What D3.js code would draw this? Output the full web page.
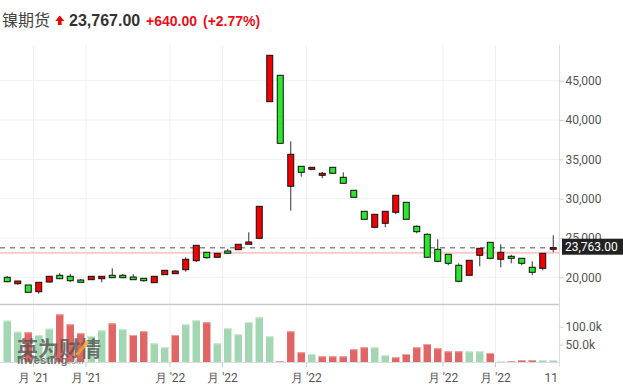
<!DOCTYPE html>
<html><head><meta charset="utf-8">
<script src="https://cdn.jsdelivr.net/npm/d3@7"></script>
<style>body{margin:0;background:#fff;} svg{display:block;}</style>
</head><body><svg id="c" width="623" height="391"></svg>
<script>
// ---- data ----
const opens  = [20000,19186,19021,18169,19402,20254,20127,19657,19695,19822,20254,20254,20038,19873,19313,20331,20458,20966,22111,23179,22543,23344,23510,24196,24959,42330,45686,31572,34115,33733,32970,33988,32716,31063,28393,26358,26867,28265,29537,26485,25468,23560,22925,21526,20254,22798,24451,22289,22670,22416,21272,21144,23560];
const highs  = [20165,19529,19021,19364,20127,20547,20420,19784,20127,20127,21144,20420,20382,19873,20127,20890,20890,22543,24069,23179,23052,23637,24196,25722,29028,48230,45686,37294,34115,33988,33390,33988,33352,31063,28393,28011,28393,30427,29537,26612,25595,24832,22925,21780,22162,23688,24451,24196,22874,22416,22035,23052,25341];
const lows   = [19364,19059,18093,17915,19313,19822,19402,19364,19695,19364,19949,19949,19695,19440,19313,20331,20458,20712,21946,22365,22543,23052,23510,24196,24959,42330,37039,28469,32792,33606,32589,33225,31953,30173,27375,26231,26358,28011,27375,25595,22543,21907,21526,19364,20254,21399,22289,21272,21780,21526,20254,20890,23179];
const closes = [19440,19529,18093,19364,20127,19822,19568,19364,20127,20127,19949,19949,19695,19568,20127,20890,20801,22289,24069,22492,23052,23052,24196,24489,29028,48230,37039,35641,33352,33988,33225,33225,31953,30173,27375,28011,28393,30427,27375,25799,22543,22035,21780,19491,22162,23688,22416,23179,22416,21780,20636,23052,23763];
const volumes = [116.8,86.0,84.4,76.8,94.4,134.6,106.7,81.6,74.0,89.9,109.5,92.7,76.8,87.2,53.6,42.5,76.8,106.7,117.9,112.3,53.6,95.5,78.8,112.3,126.3,73.2,4.2,87.2,28.5,23.7,17.3,17.3,17.3,36.9,42.5,42.5,20.1,14.5,23.7,42.5,51.7,39.7,31.3,31.3,31.3,31.3,26.5,4.2,4.2,7.0,7.0,7.0,7.0].map(v=>v*1000);
const volumeUp = [0,0,1,0,0,1,1,1,0,0,1,0,1,1,0,0,1,0,0,1,0,0,0,0,0,0,1,1,1,0,1,1,1,1,1,0,0,1,1,1,1,1,1,1,0,0,1,0,1,1,1,0,0];
const priceTicks = [20000,25000,30000,35000,40000,45000];
const volumeTicks = [50000,100000];
const xTickAfter = [2,7,15,20,28,41,46];
const xTickLabels = ["月 '21","月 '21","月 '22","月 '22","月 '22","月 '22","月 '22"];
const lastXLabel = "11";
const lastPrice = 23763, prevClose = 23127;
const titleText = "镍期货", priceText = "23,767.00", changeText = "+640.00", pctText = "(+2.77%)";

// ---- layout ----
const svg = d3.select("#c");
const N = opens.length;
const plotL = 2, plotR = 558.5, axisX = 559.5;
const topY = 45, sepY = 304.5, volBottom = 362.5;

const x = d3.scaleBand().domain(d3.range(N)).range([plotL, plotR]).paddingInner(0.43).paddingOuter(0.215);
const xv = d3.scaleBand().domain(d3.range(N)).range([plotL, plotR]).paddingInner(0.29).paddingOuter(0.145);
const y = d3.scaleLinear().domain([20000,45000]).range([277.3,80.7]);
const yv = d3.scaleLinear().domain([0,100000]).range([volBottom,326.7]);

const gridX = i => x(i) + x.bandwidth()/2 + x.step()/2;

// header
const hdr = svg.append("g");
hdr.append("text").attr("x",2).attr("y",26).attr("font-family","'Noto Sans CJK SC'").attr("font-size",16).attr("fill","#444").text(titleText);
hdr.append("path").attr("d","M59.8,15.5 L64.3,21 L61.6,21 L61.6,25 L58,25 L58,21 L55.3,21 Z").attr("fill","#e60000");
hdr.append("text").attr("x",69).attr("y",26).attr("font-family","'Liberation Sans',Arial").attr("font-weight","bold").attr("font-size",16).attr("fill","#333").text(priceText);
hdr.append("text").attr("x",146).attr("y",26).attr("font-family","'Liberation Sans',Arial").attr("font-weight","bold").attr("font-size",14).attr("fill","#e8101a").text(changeText);
hdr.append("text").attr("x",203).attr("y",26).attr("font-family","'Liberation Sans',Arial").attr("font-weight","bold").attr("font-size",14).attr("fill","#e8101a").text(pctText);

// grid
const grid = svg.append("g");
grid.selectAll("line.h").data(priceTicks).join("line")
  .attr("x1",0).attr("x2",axisX).attr("y1",d=>y(d)).attr("y2",d=>y(d))
  .attr("stroke","#f0f0f0").attr("stroke-width",1);
grid.selectAll("line.v").data(xTickAfter).join("line")
  .attr("x1",d=>gridX(d)).attr("x2",d=>gridX(d)).attr("y1",topY).attr("y2",volBottom)
  .attr("stroke","#f0f0f0").attr("stroke-width",1);

// reference lines
svg.append("line").attr("x1",0).attr("x2",axisX).attr("y1",y(prevClose)).attr("y2",y(prevClose))
  .attr("stroke","#ffc8c8").attr("stroke-width",2);
svg.append("line").attr("x1",0).attr("x2",axisX).attr("y1",y(lastPrice)).attr("y2",y(lastPrice))
  .attr("stroke","#8a8a8a").attr("stroke-width",1.6).attr("stroke-dasharray","5,5");

// candles
const cg = svg.append("g");
const idx = d3.range(N);
cg.selectAll("line.w").data(idx).join("line")
  .attr("x1",i=>x(i)+x.bandwidth()/2).attr("x2",i=>x(i)+x.bandwidth()/2)
  .attr("y1",i=>y(highs[i])).attr("y2",i=>y(lows[i]))
  .attr("stroke","#333").attr("stroke-width",1);
cg.selectAll("rect").data(idx).join("rect")
  .attr("x",i=>x(i)).attr("width",x.bandwidth())
  .attr("y",i=>y(Math.max(opens[i],closes[i])))
  .attr("height",i=>Math.max(1.5,Math.abs(y(opens[i])-y(closes[i]))))
  .attr("fill",i=>closes[i]>=opens[i]?"#f00000":"#2ee52e")
  .attr("stroke","#111").attr("stroke-width",1);

// separator
svg.append("line").attr("x1",0).attr("x2",axisX).attr("y1",sepY).attr("y2",sepY).attr("stroke","#c8c8c8").attr("stroke-width",1.5);

// volume
const vg = svg.append("g");
vg.selectAll("rect").data(idx).join("rect")
  .attr("x",i=>xv(i)).attr("width",xv.bandwidth())
  .attr("y",i=>yv(volumes[i])).attr("height",i=>volBottom-yv(volumes[i]))
  .attr("fill",i=>volumeUp[i]?"#e06666":"#a3d6b2");
vg.selectAll("line").data(idx).join("line")
  .attr("x1",i=>xv(i)).attr("x2",i=>xv(i)+xv.bandwidth())
  .attr("y1",i=>yv(volumes[i])+0.5).attr("y2",i=>yv(volumes[i])+0.5)
  .attr("stroke",i=>volumeUp[i]?"#f0a0a0":"#cdeccf").attr("stroke-width",1);

svg.append("line").attr("x1",0).attr("x2",axisX).attr("y1",volBottom).attr("y2",volBottom).attr("stroke","#dcdcdc");

// watermark
const wm = svg.append("g").attr("opacity",0.8);
wm.append("text").attr("x",17).attr("y",356).attr("font-family","'Noto Sans CJK SC'").attr("font-weight","bold").attr("font-size",21).attr("fill","#555").text("英为财情");
wm.append("line").attr("x1",77).attr("y1",355).attr("x2",88).attr("y2",341).attr("stroke","#f2a41e").attr("stroke-width",3.5);
wm.append("text").attr("x",17).attr("y",364).attr("font-family","'Liberation Sans',Arial").attr("font-weight","bold").attr("font-size",11.5).attr("fill","#555").text("Investing");
wm.append("text").attr("x",64).attr("y",364).attr("font-family","'Liberation Sans',Arial").attr("font-size",9).attr("fill","#777").text(".com");

// right axis line
svg.append("line").attr("x1",axisX).attr("x2",axisX).attr("y1",topY).attr("y2",367).attr("stroke","#dcdcdc");

// right axes
const ya = svg.append("g").attr("transform",`translate(${axisX},0)`)
  .call(d3.axisRight(y).tickValues(priceTicks).tickFormat(d3.format(",")).tickSize(4).tickPadding(2));
const yva = svg.append("g").attr("transform",`translate(${axisX},0)`)
  .call(d3.axisRight(yv).tickValues(volumeTicks).tickFormat(d=>(d/1000).toFixed(1)+"k").tickSize(4).tickPadding(2));
[ya,yva].forEach(g=>{
  g.select(".domain").remove();
  g.selectAll(".tick line").attr("stroke","#ccc");
  g.selectAll(".tick text").attr("font-family","Roboto").attr("font-size",12).attr("fill","#555");
});

// bottom ticks & labels
const xa = svg.append("g");
xa.selectAll("line").data(xTickAfter).join("line")
  .attr("x1",d=>gridX(d)).attr("x2",d=>gridX(d)).attr("y1",volBottom).attr("y2",367).attr("stroke","#ccc");
xa.selectAll("text").data(xTickAfter).join("text")
  .attr("x",d=>gridX(d)).attr("y",382).attr("text-anchor","middle")
  .attr("font-family","Roboto").attr("font-size",12).attr("fill","#555")
  .text((d,i)=>xTickLabels[i]);
xa.append("text").attr("x",gridX(N-1)-0.5).attr("y",382).attr("text-anchor","end")
  .attr("font-family","Roboto").attr("font-size",12).attr("fill","#555").text(lastXLabel);

// last price box
const pb = svg.append("g");
pb.append("rect").attr("x",axisX+2.5).attr("y",y(lastPrice)-9).attr("width",61).attr("height",16).attr("fill","#222");
pb.append("text").attr("x",axisX+5.5).attr("y",y(lastPrice)+3.3).attr("font-family","Roboto").attr("font-size",12).attr("fill","#fff").text(d3.format(",.2f")(lastPrice));
</script></body></html>
